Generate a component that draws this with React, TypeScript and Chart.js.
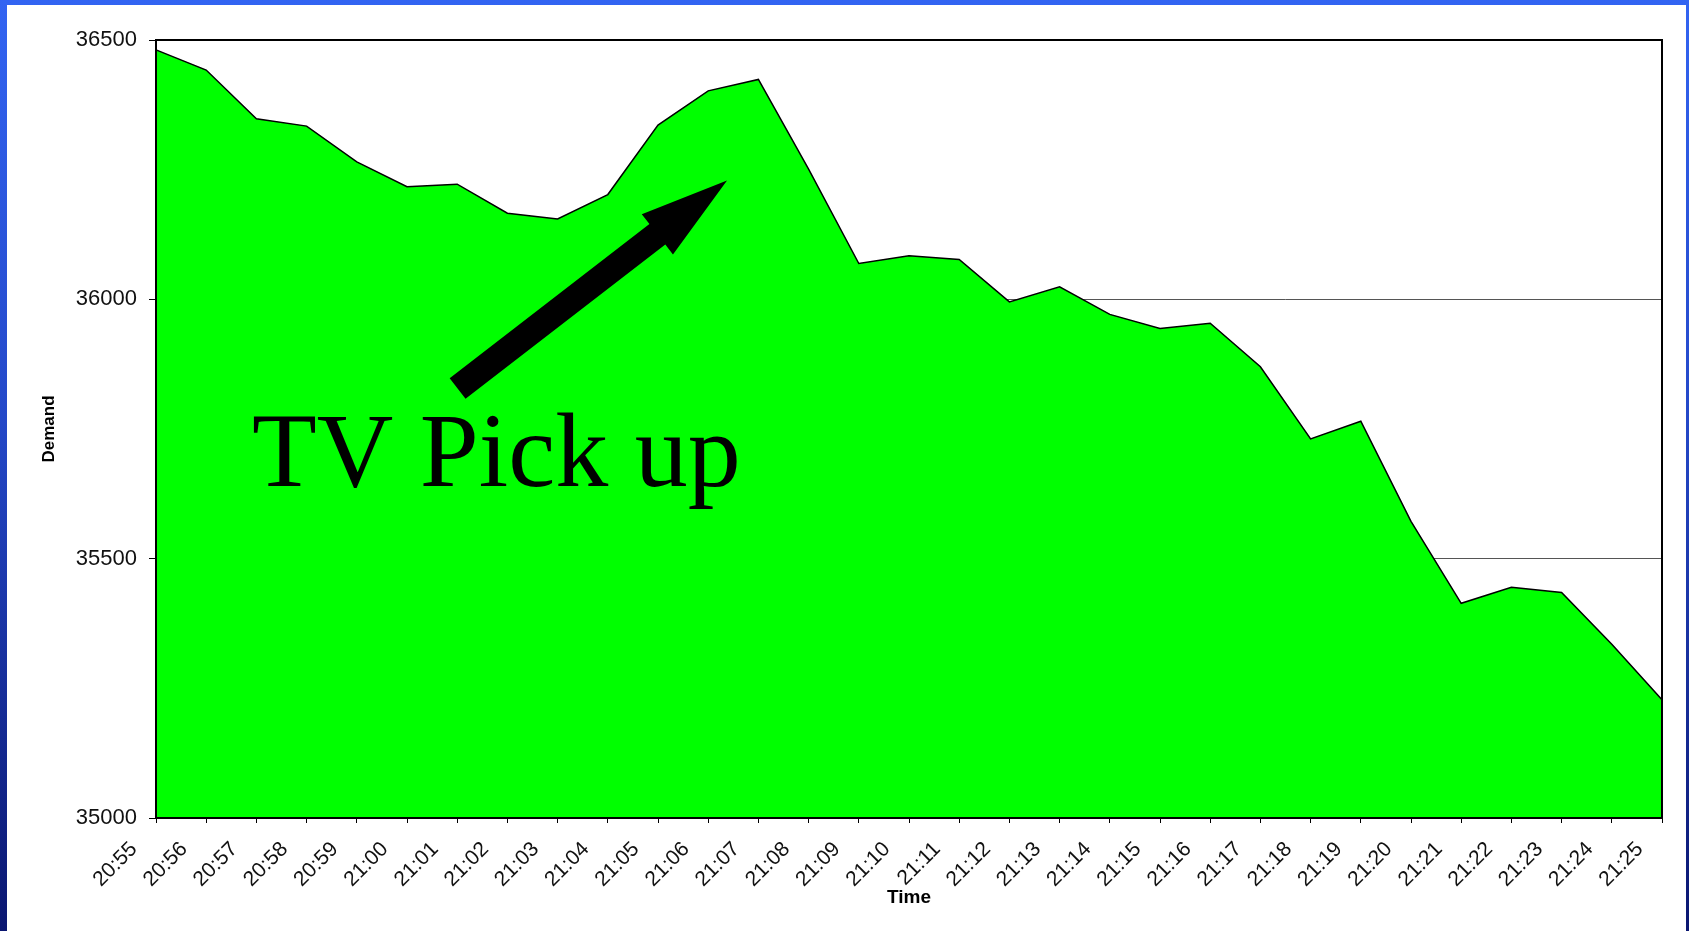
import React, { useEffect, useRef } from "react";
import { Chart, registerables } from "chart.js";

Chart.register(...registerables);

const categories = [
  "20:55", "20:56", "20:57", "20:58", "20:59", "21:00", "21:01", "21:02",
  "21:03", "21:04", "21:05", "21:06", "21:07", "21:08", "21:09", "21:10",
  "21:11", "21:12", "21:13", "21:14", "21:15", "21:16", "21:17", "21:18",
  "21:19", "21:20", "21:21", "21:22", "21:23", "21:24", "21:25",
];

const demand = [
  36481, 36442, 36348, 36334, 36265, 36217, 36222, 36166,
  36155, 36202, 36336, 36402, 36424, 36251, 36069, 36084,
  36077, 35995, 36024, 35971, 35944, 35954, 35870, 35731,
  35765, 35572, 35414, 35445, 35435, 35335, 35228,
];

const yTickValues = [35000, 35500, 36000, 36500];

const annotationText = "TV Pick up";
const annotationAnchor = [1.912, 35640]; // [category index, demand] at text baseline start
const arrowFrom = [6.008, 35828];
const arrowTo = [11.375, 36229];

const annotationPlugin = {
  id: "tvAnnotation",
  afterDatasetsDraw(chart: any) {
    const { ctx, scales } = chart;
    const xs = scales.x;
    const ys = scales.y;
    ctx.save();
    ctx.fillStyle = "#000";
    ctx.font = "106px 'Liberation Serif', 'Times New Roman', serif";
    ctx.textAlign = "left";
    ctx.textBaseline = "alphabetic";
    ctx.fillText(
      annotationText,
      xs.getPixelForValue(annotationAnchor[0]),
      ys.getPixelForValue(annotationAnchor[1])
    );
    const x0 = xs.getPixelForValue(arrowFrom[0]);
    const y0 = ys.getPixelForValue(arrowFrom[1]);
    const x1 = xs.getPixelForValue(arrowTo[0]);
    const y1 = ys.getPixelForValue(arrowTo[1]);
    const dx = x1 - x0;
    const dy = y1 - y0;
    const len = Math.sqrt(dx * dx + dy * dy);
    const ux = dx / len;
    const uy = dy / len;
    const px = -uy;
    const py = ux;
    const shaftHalf = 13;
    const headHalf = 25.5;
    const headLen = 88;
    const bx = x1 - ux * headLen;
    const by = y1 - uy * headLen;
    ctx.beginPath();
    ctx.moveTo(x0 + px * shaftHalf, y0 + py * shaftHalf);
    ctx.lineTo(bx + px * shaftHalf, by + py * shaftHalf);
    ctx.lineTo(bx + px * headHalf, by + py * headHalf);
    ctx.lineTo(x1, y1);
    ctx.lineTo(bx - px * headHalf, by - py * headHalf);
    ctx.lineTo(bx - px * shaftHalf, by - py * shaftHalf);
    ctx.lineTo(x0 - px * shaftHalf, y0 - py * shaftHalf);
    ctx.closePath();
    ctx.fill();
    ctx.restore();
  },
  afterDraw(chart: any) {
    const { ctx, chartArea } = chart;
    ctx.save();
    ctx.strokeStyle = "#000";
    ctx.lineWidth = 2;
    ctx.strokeRect(
      chartArea.left,
      chartArea.top,
      chartArea.right - chartArea.left,
      chartArea.bottom - chartArea.top
    );
    ctx.restore();
  },
};

export default function App() {
  const canvasRef = useRef<HTMLCanvasElement | null>(null);

  useEffect(() => {
    if (!canvasRef.current) return;
    const chart = new Chart(canvasRef.current, {
      type: "line",
      data: {
        labels: categories,
        datasets: [
          {
            label: "Demand",
            data: demand,
            borderColor: "#000",
            borderWidth: 1.5,
            backgroundColor: "#00ff00",
            fill: "start",
            pointRadius: 0,
            tension: 0,
          },
        ],
      },
      options: {
        responsive: false,
        animation: false,
        events: [],
        layout: { padding: { top: 40, right: 27, left: 0, bottom: 0 } },
        plugins: {
          legend: { display: false },
          tooltip: { enabled: false },
        },
        scales: {
          x: {
            type: "category",
            offset: false,
            grid: {
              display: true,
              drawOnChartArea: false,
              drawTicks: true,
              tickLength: 5,
              tickColor: "#000",
              tickWidth: 1,
            },
            border: { display: true, color: "#000", width: 2 },
            ticks: {
              autoSkip: false,
              maxRotation: 45,
              minRotation: 45,
              labelOffset: -22,
              padding: 14,
              color: "#111",
              font: { family: "'Liberation Sans', Arial, sans-serif", size: 21 },
            },
            title: {
              display: true,
              text: "Time",
              color: "#000",
              font: { family: "'Liberation Sans', Arial, sans-serif", size: 19, weight: "bold" },
              padding: { top: 0, bottom: 22 },
            },
            afterFit(scale: any) {
              scale.height = 113;
              scale.paddingRight = 0;
            },
          },
          y: {
            min: yTickValues[0],
            max: yTickValues[yTickValues.length - 1],
            afterBuildTicks(scale: any) {
              scale.ticks = yTickValues.map((v) => ({ value: v }));
            },
            grid: {
              color: "#555",
              lineWidth: 1,
              drawTicks: true,
              tickLength: 7,
              tickColor: "#000",
            },
            border: { display: true, color: "#000", width: 2 },
            ticks: {
              padding: 12,
              color: "#111",
              font: { family: "'Liberation Sans', Arial, sans-serif", size: 22 },
              callback: (v: any) => String(v),
            },
            title: {
              display: true,
              text: "Demand",
              color: "#000",
              font: { family: "'Liberation Sans', Arial, sans-serif", size: 17, weight: "bold" },
              padding: { top: 39, bottom: 0 },
            },
            afterFit(scale: any) {
              scale.width = 156;
            },
          },
        },
      },
      plugins: [annotationPlugin],
    } as any);
    return () => chart.destroy();
  }, []);

  return (
    <div
      style={{
        position: "fixed",
        left: 0,
        top: 0,
        width: 1689,
        height: 931,
        overflow: "hidden",
        background: "linear-gradient(to bottom, #3264f2 0%, #2448c8 45%, #0a1670 100%)",
      }}
    >
      <div
        style={{
          position: "absolute",
          left: 7,
          top: 5,
          width: 1679,
          height: 926,
          background: "#fff",
        }}
      />
      <canvas
        ref={canvasRef}
        width={1689}
        height={931}
        style={{ position: "absolute", left: 0, top: 0 }}
      />
    </div>
  );
}
